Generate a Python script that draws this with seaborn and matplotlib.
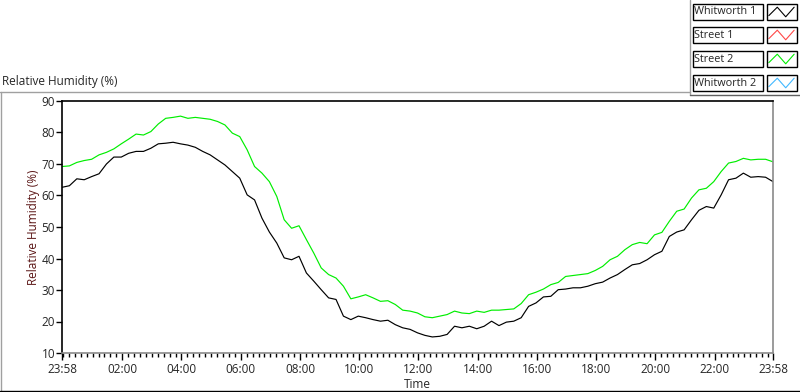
import numpy as np
import pandas as pd
import matplotlib
matplotlib.use("Agg")
import matplotlib.pyplot as plt
from matplotlib.lines import Line2D
from matplotlib.patches import Rectangle
import seaborn as sns

# sampling grid: every 15 min from 23:58 (hours since start)
hours = np.arange(0, 24.01, 0.25)

whitworth1 = [
    62.6, 63.1, 65.3, 65.0, 66.0, 66.9, 70.0, 72.2, 72.2, 73.4, 74.0, 74.0,
    75.0, 76.4, 76.6, 76.9, 76.4, 76.0, 75.3, 74.0, 72.9, 71.3, 69.7, 67.6,
    65.5, 60.2, 58.6, 52.8, 48.4, 44.9, 40.2, 39.6, 40.7, 35.4, 32.8, 30.1,
    27.5, 27.0, 21.7, 20.6, 21.7, 21.2, 20.6, 20.1, 20.4, 19.0, 18.0, 17.5,
    16.4, 15.6, 15.1, 15.3, 15.9, 18.5, 18.0, 18.5, 17.7, 18.5, 20.1, 18.7,
    19.8, 20.1, 21.2, 24.8, 25.9, 27.8, 28.0, 30.1, 30.3, 30.7, 30.7, 31.2,
    32.0, 32.5, 33.8, 34.9, 36.5, 38.0, 38.4, 39.6, 41.2, 42.3, 47.0, 48.4,
    49.1, 52.3, 55.3, 56.5, 56.0, 60.2, 65.0, 65.5, 67.1, 65.8, 66.0, 65.8,
    64.4,
]

street2 = [
    69.2, 69.4, 70.5, 71.1, 71.5, 72.9, 73.7, 74.8, 76.4, 77.9, 79.5, 79.2,
    80.3, 82.7, 84.5, 84.8, 85.2, 84.5, 84.8, 84.5, 84.2, 83.5, 82.4, 79.8,
    78.7, 74.5, 69.2, 67.1, 64.4, 59.7, 52.3, 49.6, 50.4, 46.0, 41.7, 37.0,
    34.9, 33.8, 31.2, 27.2, 27.8, 28.5, 27.5, 26.4, 26.6, 25.4, 23.6, 23.3,
    22.7, 21.5, 21.2, 21.7, 22.2, 23.3, 22.7, 22.5, 23.3, 22.9, 23.6, 23.6,
    23.8, 24.0, 25.7, 28.5, 29.3, 30.3, 31.7, 32.4, 34.3, 34.6, 34.9, 35.2,
    36.2, 37.5, 39.6, 40.7, 42.8, 44.4, 45.1, 44.7, 47.5, 48.3, 51.8, 55.0,
    55.7, 59.2, 61.8, 62.3, 64.4, 67.6, 70.3, 70.8, 71.8, 71.3, 71.5, 71.5,
    70.7,
]

legend_names = ["Whitworth 1", "Street 1", "Street 2", "Whitworth 2"]
legend_colors = ["#000000", "#ff4848", "#00ee00", "#40b8ff"]

tick_pos = [0] + [h + 2 / 60 for h in range(2, 23, 2)] + [24]
tick_labels = ["23:58", "02:00", "04:00", "06:00", "08:00", "10:00", "12:00",
               "14:00", "16:00", "18:00", "20:00", "22:00", "23:58"]

df = pd.concat([
    pd.DataFrame({"hours": hours, "rh": whitworth1, "series": "Whitworth 1"}),
    pd.DataFrame({"hours": hours, "rh": street2, "series": "Street 2"}),
])

sns.set_style("white")
plt.rcParams["font.family"] = ["Open Sans", "DejaVu Sans"]
plt.rcParams["font.size"] = 8.5

W, H = 800, 392
fig = plt.figure(figsize=(W / 100, H / 100), dpi=100)
fig.patch.set_facecolor("white")


def fx(px):
    return px / W


def fy(py):
    return 1 - py / H


ax = fig.add_axes([fx(62), fy(353), fx(773) - fx(62), fy(101) - fy(353)])
sns.lineplot(data=df, x="hours", y="rh", hue="series",
             palette={"Whitworth 1": "#000000", "Street 2": "#00ee00"},
             linewidth=0.85, ax=ax, legend=False)

ax.set_xlim(0, 24)
ax.set_ylim(10, 90)
ax.set_yticks(range(10, 91, 10))
ax.set_xticks(tick_pos)
ax.set_xticklabels(tick_labels)
ax.set_xticks(np.arange(2 / 60, 24, 0.2), minor=True)
ax.tick_params(axis="x", which="major", direction="out", length=5, width=1,
               color="black", pad=2, labelsize=8.5, bottom=True)
ax.tick_params(axis="x", which="minor", direction="out", length=3, width=1,
               color="black", bottom=True)
ax.tick_params(axis="y", which="major", direction="out", length=4, width=1,
               color="black", pad=1, labelsize=8.5, left=True)

for side in ["left", "top"]:
    ax.spines[side].set_color("black")
    ax.spines[side].set_linewidth(1.2)
for side in ["right", "bottom"]:
    ax.spines[side].set_color("#8a8a8a")
    ax.spines[side].set_linewidth(1.2)

ax.set_xlabel("Time", fontsize=8.5, labelpad=2)
ax.set_ylabel("Relative Humidity (%)", fontsize=8.5, color="#5a1414")
ax.yaxis.set_label_coords(-0.031, 0.5)

fig.text(fx(2), fy(82), "Relative Humidity (%)", fontsize=8.5,
         ha="left", va="center")

# outer frame of the chart panel
fig.add_artist(Line2D([fx(0), fx(690)], [fy(91.5), fy(91.5)], color="#a0a0a0", lw=1))
fig.add_artist(Line2D([fx(1), fx(1)], [fy(91.5), fy(392)], color="#a0a0a0", lw=1))
fig.add_artist(Line2D([fx(0), fx(800)], [fy(390.5), fy(390.5)], color="black", lw=1))
fig.add_artist(Line2D([fx(690), fx(690)], [fy(0), fy(95)], color="#a0a0a0", lw=1))
fig.add_artist(Line2D([fx(690), fx(800)], [fy(95), fy(95)], color="#606060", lw=1))

# plot legend (LabVIEW style)
row_tops = [4, 27, 51, 75]
for name, color, top in zip(legend_names, legend_colors, row_tops):
    fig.add_artist(Rectangle((fx(692.5), fy(top + 16)), fx(70), 16 / H,
                             fill=False, edgecolor="black", lw=1))
    fig.text(fx(694.5), fy(top + 8), name, fontsize=7.8, ha="left", va="center")
    fig.add_artist(Rectangle((fx(766.5), fy(top + 16)), fx(30), 16 / H,
                             fill=False, edgecolor="black", lw=1))
    lax = fig.add_axes([fx(768), fy(top + 14), fx(27), 12 / H])
    lax.plot([0, 1, 2, 3], [0.2, 0.9, 0.1, 0.9], color=color, lw=0.8)
    lax.set_xlim(-0.1, 3.1)
    lax.set_ylim(0, 1)
    lax.axis("off")

fig.savefig("out.png", dpi=100, facecolor="white")
